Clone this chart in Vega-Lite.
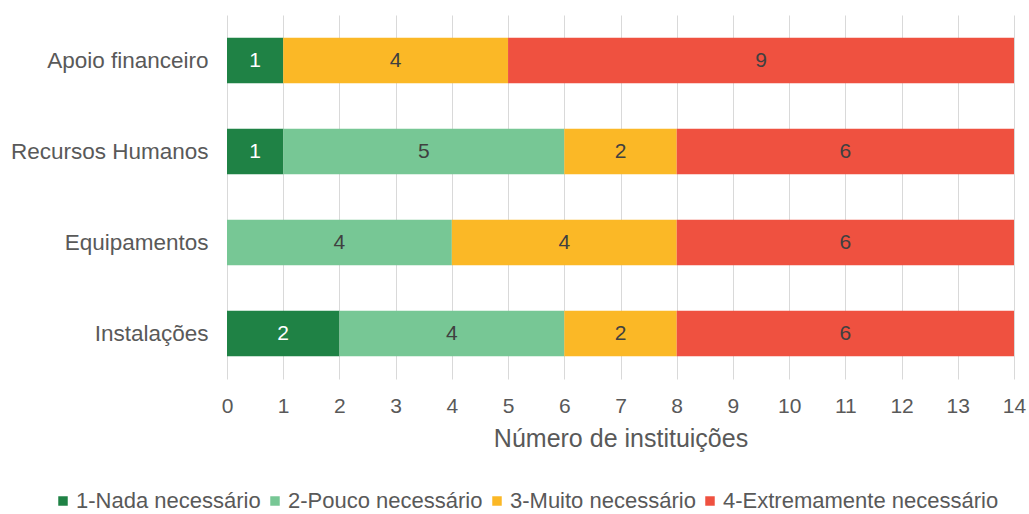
{
  "$schema": "https://vega.github.io/schema/vega-lite/v6.json",
  "width": 787,
  "height": 364,
  "autosize": {"type": "none"},
  "padding": {"left": 227, "top": 15, "right": 15, "bottom": 135},
  "background": "white",
  "config": {"font": "Liberation Sans", "view": {"stroke": null}},
  "data": {"values": [
    {"item": "Apoio financeiro", "cat": "1-Nada necessário", "o": 1, "n": 1},
    {"item": "Apoio financeiro", "cat": "3-Muito necessário", "o": 3, "n": 4},
    {"item": "Apoio financeiro", "cat": "4-Extremamente necessário", "o": 4, "n": 9},
    {"item": "Recursos Humanos", "cat": "1-Nada necessário", "o": 1, "n": 1},
    {"item": "Recursos Humanos", "cat": "2-Pouco necessário", "o": 2, "n": 5},
    {"item": "Recursos Humanos", "cat": "3-Muito necessário", "o": 3, "n": 2},
    {"item": "Recursos Humanos", "cat": "4-Extremamente necessário", "o": 4, "n": 6},
    {"item": "Equipamentos", "cat": "2-Pouco necessário", "o": 2, "n": 4},
    {"item": "Equipamentos", "cat": "3-Muito necessário", "o": 3, "n": 4},
    {"item": "Equipamentos", "cat": "4-Extremamente necessário", "o": 4, "n": 6},
    {"item": "Instalações", "cat": "1-Nada necessário", "o": 1, "n": 2},
    {"item": "Instalações", "cat": "2-Pouco necessário", "o": 2, "n": 4},
    {"item": "Instalações", "cat": "3-Muito necessário", "o": 3, "n": 2},
    {"item": "Instalações", "cat": "4-Extremamente necessário", "o": 4, "n": 6}
  ]},
  "encoding": {
    "y": {"field": "item", "type": "nominal",
      "sort": ["Apoio financeiro", "Recursos Humanos", "Equipamentos", "Instalações"],
      "scale": {"paddingInner": 0.5, "paddingOuter": 0.25},
      "axis": {"title": null, "domain": false, "ticks": false, "labelFontSize": 22.5, "labelColor": "#595959", "labelPadding": 19, "labelLimit": 300}},
    "x": {"field": "n", "type": "quantitative", "stack": "zero",
      "scale": {"domain": [0, 14], "nice": false},
      "axis": {"title": "Número de instituições", "titleFontSize": 25, "titleFontWeight": "normal", "titleColor": "#595959", "titlePadding": 10,
        "values": [0,1,2,3,4,5,6,7,8,9,10,11,12,13,14], "labelOverlap": false, "labelFlush": false,
        "domain": false, "ticks": false, "labelFontSize": 21, "labelColor": "#595959", "labelPadding": 16,
        "grid": true, "gridColor": "#d9d9d9", "gridWidth": 1}},
    "order": {"field": "o", "type": "quantitative"}
  },
  "layer": [
    {"mark": {"type": "bar"},
      "encoding": {
        "color": {"field": "cat", "type": "nominal",
          "scale": {"domain": ["1-Nada necessário", "2-Pouco necessário", "3-Muito necessário", "4-Extremamente necessário"],
            "range": ["#1f8245", "#77c795", "#fbb826", "#ef5140"]},
          "legend": {"title": null, "orient": "none", "direction": "horizontal", "legendX": -175, "legendY": 475,
            "symbolType": "square", "symbolSize": 90, "symbolStrokeWidth": 0, "labelFontSize": 22, "labelColor": "#595959", "labelLimit": 500, "columnPadding": 3, "labelOffset": 2}}
      }},
    {"mark": {"type": "text", "fontSize": 21},
      "encoding": {
        "x": {"field": "n", "type": "quantitative", "stack": "zero", "bandPosition": 0.5},
        "text": {"field": "n", "type": "quantitative"},
        "color": {"condition": {"test": "datum.o == 1", "value": "white"}, "value": "#404040"}
      }}
  ]
}
